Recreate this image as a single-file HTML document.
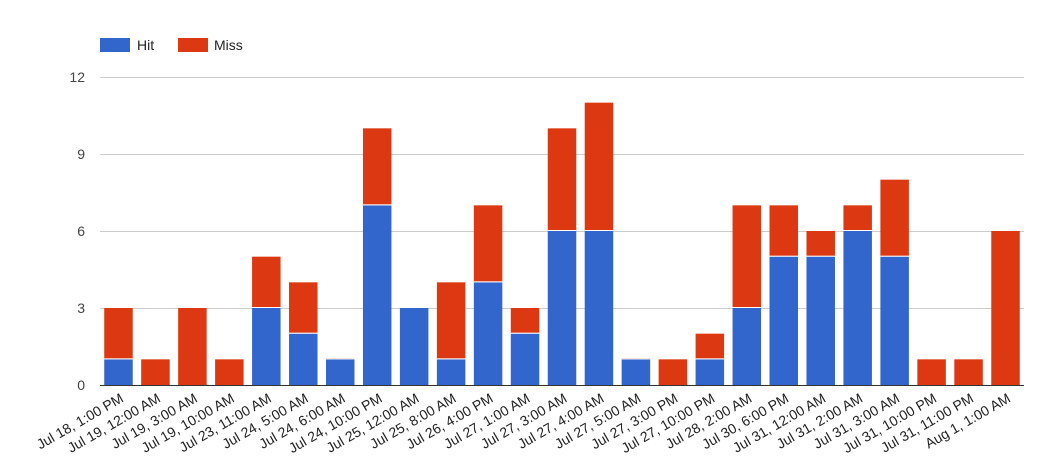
<!DOCTYPE html>
<html><head><meta charset="utf-8"><style>body{margin:0;background:#fff}svg{display:block}text{font-family:"Liberation Sans",Arial,sans-serif}</style></head>
<body>
<svg width="1043" height="474" xmlns="http://www.w3.org/2000/svg">
<rect x="100" y="38" width="30" height="14" fill="#3366cc"/>
<text x="137" y="50" font-size="14" fill="#222">Hit</text>
<rect x="178" y="38" width="30" height="14" fill="#dc3912"/>
<text x="214" y="50" font-size="14" fill="#222">Miss</text>
<g stroke="#cccccc" stroke-width="1">
<line x1="100" x2="1024" y1="77.5" y2="77.5"/>
<line x1="100" x2="1024" y1="154.5" y2="154.5"/>
<line x1="100" x2="1024" y1="231.5" y2="231.5"/>
<line x1="100" x2="1024" y1="308.5" y2="308.5"/>
</g>
<g font-size="14" fill="#444" text-anchor="end">
<text x="85" y="82">12</text><text x="85" y="159">9</text><text x="85" y="236">6</text><text x="85" y="313">3</text><text x="85" y="390">0</text>
</g>
<g id="bars"></g>
<line x1="100" x2="1024" y1="385.5" y2="385.5" stroke="#333"/>
<g id="labels" font-size="14" fill="#222" text-anchor="end"></g>
</svg>
<script>
var d=[[1,2,"Jul 18, 1:00 PM"],[0,1,"Jul 19, 12:00 AM"],[0,3,"Jul 19, 3:00 AM"],[0,1,"Jul 19, 10:00 AM"],[3,2,"Jul 23, 11:00 AM"],[2,2,"Jul 24, 5:00 AM"],[1,0.04,"Jul 24, 6:00 AM"],[7,3,"Jul 24, 10:00 PM"],[3,0.04,"Jul 25, 12:00 AM"],[1,3,"Jul 25, 8:00 AM"],[4,3,"Jul 26, 4:00 PM"],[2,1,"Jul 27, 1:00 AM"],[6,4,"Jul 27, 3:00 AM"],[6,5,"Jul 27, 4:00 AM"],[1,0.04,"Jul 27, 5:00 AM"],[0,1,"Jul 27, 3:00 PM"],[1,1,"Jul 27, 10:00 PM"],[3,4,"Jul 28, 2:00 AM"],[5,2,"Jul 30, 6:00 PM"],[5,1,"Jul 31, 12:00 AM"],[6,1,"Jul 31, 2:00 AM"],[5,3,"Jul 31, 3:00 AM"],[0,1,"Jul 31, 10:00 PM"],[0,1,"Jul 31, 11:00 PM"],[0,6,"Aug 1, 1:00 AM"]];
var ns="http://www.w3.org/2000/svg",b=document.getElementById("bars"),l=document.getElementById("labels");
var u=308/12,step=924/25,w=28.5;
d.forEach(function(r,i){var x=100+i*step+(step-w)/2;
function R(y0,h,c){if(h<=0)return;var e=document.createElementNS(ns,"rect");e.setAttribute("x",x);e.setAttribute("y",y0-h);e.setAttribute("width",w);e.setAttribute("height",h);e.setAttribute("fill",c);b.appendChild(e);}
var hh=r[0]*u,mh=r[1]*u;
R(385,hh,"#3366cc");
if(hh>0&&mh>0){R(385-hh-0.5,mh-0.5,"#dc3912");var s=document.createElementNS(ns,"rect");s.setAttribute("x",x);s.setAttribute("y",385-hh-1);s.setAttribute("width",w);s.setAttribute("height",1);s.setAttribute("fill","#fff");b.appendChild(s);}else R(385-hh,mh,"#dc3912");
var cx=x+w/2+6,t=document.createElementNS(ns,"text");t.setAttribute("transform","translate("+cx+",401) rotate(-30)");t.textContent=r[2];l.appendChild(t);});
</script>
</body></html>
